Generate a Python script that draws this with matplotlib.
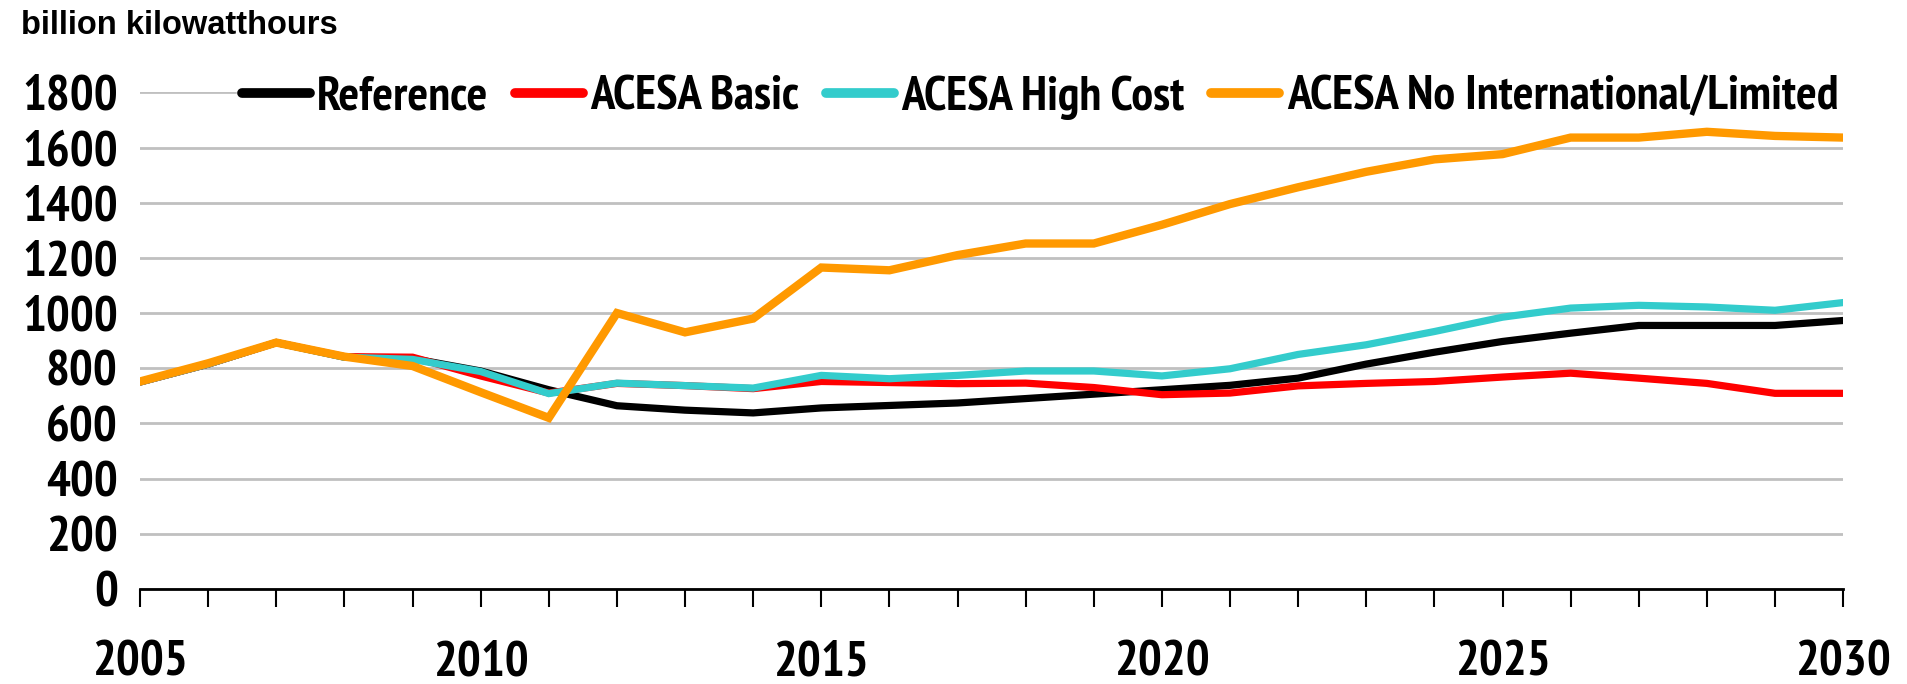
import matplotlib.pyplot as plt
from matplotlib import font_manager as fm
import numpy as np

# anos e cenarios (bilhoes de kWh)
anos = list(range(2005, 2031))
reference = [750, 815, 893, 840, 835, 790, 722, 664, 648, 638, 656, 665, 674, 690, 706, 722, 738, 764, 815, 858, 897, 927, 955, 955, 955, 973]
acesa_basic = [750, 815, 893, 842, 840, 772, 710, 745, 737, 726, 752, 748, 744, 746, 730, 704, 710, 736, 745, 752, 768, 782, 764, 745, 709, 709]
acesa_high = [750, 815, 893, 840, 832, 788, 708, 746, 737, 728, 774, 762, 774, 790, 790, 772, 798, 850, 885, 933, 985, 1018, 1028, 1022, 1010, 1038]
acesa_noint = [752, 818, 893, 842, 808, 713, 620, 1000, 930, 980, 1165, 1155, 1210, 1252, 1252, 1320, 1395, 1456, 1512, 1557, 1576, 1636, 1636, 1657, 1642, 1636]

series = [
    ("Reference", reference, "black", 5.2),
    ("ACESA Basic", acesa_basic, "#FF0000", 5.2),
    ("ACESA High Cost", acesa_high, "#33CCCC", 5.2),
    ("ACESA No International/Limited", acesa_noint, "#FF9900", 6.0),
]

# fonte estreita parecida com Arial Narrow, se houver
bold_fams = {f.name for f in fm.fontManager.ttflist if f.weight in (700, 'bold') and f.style == 'normal'}
narrow = 'Liberation Sans'
for cand in ['Liberation Sans Narrow', 'Archivo Narrow', 'PT Sans Narrow', 'Roboto Condensed',
             'Fira Sans Condensed', 'Open Sans Condensed', 'Saira SemiCondensed']:
    if cand in bold_fams:
        narrow = cand
        break

plt.rcParams['font.family'] = [narrow, 'Liberation Sans', 'DejaVu Sans']
plt.rcParams['font.weight'] = 'bold'

fig = plt.figure(figsize=(19.08, 6.84), dpi=100)
ax = fig.add_axes([0.0734, 0.139, 0.8926, 0.726])

for nome, vals, cor, lw in series:
    ax.plot(anos, vals, color=cor, lw=lw, label=nome, solid_joinstyle='miter')

ax.set_xlim(2005, 2030)
ax.set_ylim(0, 1800)
ax.set_yticks(np.arange(0, 1801, 200))
ax.yaxis.grid(True, color="#C0C0C0", lw=2)
ax.set_axisbelow(True)

ax.set_xticks(anos)
ax.set_xticklabels([str(a) if a % 5 == 0 else "" for a in anos])
ax.tick_params(axis='x', direction='out', length=13, width=1.5, pad=24, labelsize=36)
ax.tick_params(axis='y', length=0, pad=16, labelsize=36)
for lab in ax.get_xticklabels() + ax.get_yticklabels():
    lab.set_fontweight('bold')

for s in ['left', 'right', 'top']:
    ax.spines[s].set_visible(False)
ax.spines['bottom'].set_linewidth(2)

fig.text(0.011, 0.985, "billion kilowatthours", fontsize=23.5, fontweight='bold', va='top',
         family=['Liberation Sans', 'DejaVu Sans'])

leg = ax.legend(loc='center right', bbox_to_anchor=(1.0, 0.99), ncol=4, frameon=True,
                fontsize=35, handlelength=1.4, handletextpad=0.15, columnspacing=0.55,
                borderpad=0.1, borderaxespad=0)
leg.get_frame().set_edgecolor('white')
leg.get_frame().set_facecolor('white')
leg.get_frame().set_alpha(1)
for t in leg.get_texts():
    t.set_fontweight('bold')
for h in leg.get_lines():
    h.set_linewidth(7)
    h.set_solid_capstyle('round')

fig.savefig("out.png", dpi=100)
